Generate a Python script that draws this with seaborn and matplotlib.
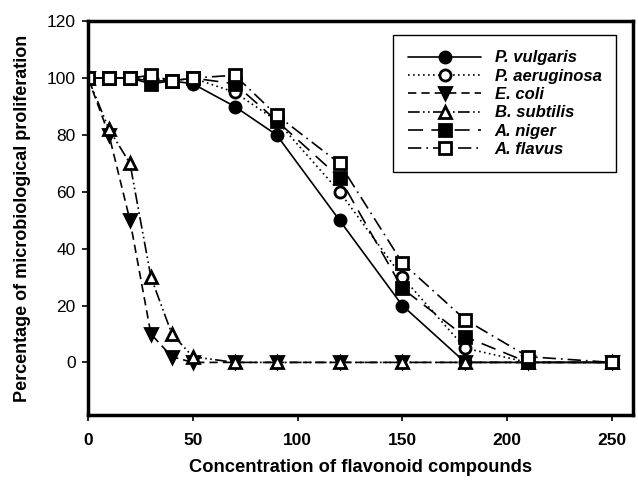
import matplotlib
matplotlib.use("Agg")
import matplotlib.pyplot as plt
import pandas as pd
import seaborn as sns

CONCENTRATION = [0, 10, 20, 30, 40, 50, 70, 90, 120, 150, 180, 210, 250]

P_VULGARIS = [100, 100, 100, 99, 99, 98, 90, 80, 50, 20, 0, 0, 0]
P_AERUGINOSA = [100, 100, 100, 100, 99, 100, 95, 85, 60, 30, 5, 0, 0]
E_COLI = [100, 80, 50, 10, 2, 0, 0, 0, 0, 0, 0, 0, 0]
B_SUBTILIS = [100, 82, 70, 30, 10, 2, 0, 0, 0, 0, 0, 0, 0]
A_NIGER = [100, 100, 100, 98, 99, 100, 98, 85, 65, 26, 9, 0, 0]
A_FLAVUS = [100, 100, 100, 101, 99, 100, 101, 87, 70, 35, 15, 2, 0]

SERIES = [
    ("P. vulgaris", P_VULGARIS, "-", "o", "black"),
    ("P. aeruginosa", P_AERUGINOSA, (0, (1, 2)), "o", "white"),
    ("E. coli", E_COLI, (0, (5, 3)), "v", "black"),
    ("B. subtilis", B_SUBTILIS, (0, (7, 2, 1, 2, 1, 2)), "^", "white"),
    ("A. niger", A_NIGER, (0, (9, 5)), "s", "black"),
    ("A. flavus", A_FLAVUS, (0, (8, 3, 1, 3)), "s", "white"),
]


def main() -> None:
    sns.set_theme(style="white")
    plt.rcParams["font.family"] = ["Liberation Sans", "DejaVu Sans"]
    plt.rcParams["text.color"] = "black"
    plt.rcParams["axes.labelcolor"] = "black"
    plt.rcParams["xtick.color"] = "black"
    plt.rcParams["ytick.color"] = "black"

    fig = plt.figure(figsize=(6.38, 4.82), dpi=100)
    ax = fig.add_axes([0.138, 0.139, 0.854, 0.817])

    for name, values, ls, marker, face in SERIES:
        df = pd.DataFrame({"x": CONCENTRATION, "y": values})
        sns.lineplot(
            data=df, x="x", y="y", ax=ax, color="black", linewidth=1.2,
            linestyle=ls, marker=marker, markersize=8,
            markerfacecolor=face, markeredgecolor="black",
            markeredgewidth=2.0, label=name,
        )

    ax.set_xlim(0, 260)
    ax.set_ylim(-18.5, 120)
    ax.set_xticks([0, 50, 100, 150, 200, 250])
    ax.set_yticks([0, 20, 40, 60, 80, 100, 120])
    ax.tick_params(axis="x", labelsize=12.5, length=4, width=1.2, direction="out",
                   bottom=True, pad=9)
    ax.tick_params(axis="y", labelsize=12.5, length=4, width=1.2, direction="out",
                   left=True, pad=5)
    for lbl in ax.get_xticklabels():
        lbl.set_fontweight("bold")

    for spine in ax.spines.values():
        spine.set_linewidth(2.5)
        spine.set_color("black")

    ax.set_xlabel("Concentration of flavonoid compounds", fontsize=13.2,
                  fontweight="bold", labelpad=8)
    ax.set_ylabel("Percentage of microbiological proliferation", fontsize=13,
                  fontweight="bold", labelpad=11)

    leg = ax.legend(loc="upper right", bbox_to_anchor=(0.985, 0.985),
                    fancybox=False, framealpha=1, edgecolor="black",
                    prop={"style": "italic", "weight": "bold", "size": 12},
                    handlelength=4.4, labelspacing=0.2, borderpad=0.9,
                    handletextpad=0.8)
    leg.get_frame().set_linewidth(1.0)

    fig.savefig("out.png", dpi=100)
    plt.close(fig)


if __name__ == "__main__":
    main()
